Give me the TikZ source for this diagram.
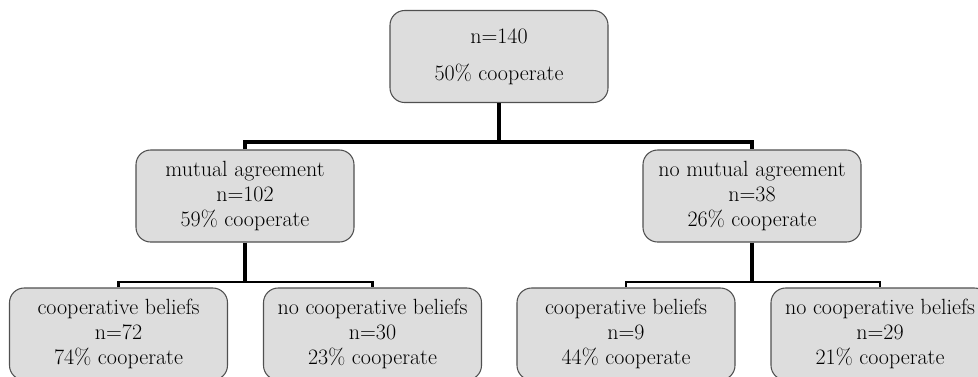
\documentclass[tikz,border=0pt]{standalone}
\usepackage{tikz}

\definecolor{boxfill}{RGB}{221,221,221}
\definecolor{boxline}{RGB}{80,80,80}

\tikzset{every picture/.style={line width=0.75pt}}
\tikzset{
  leaf/.style={draw=boxline, line width=0.8pt, fill=boxfill, rounded corners=11pt,
    minimum width=163.5pt, minimum height=69pt, align=center, inner sep=0pt,
    font=\fontsize{16.5}{18.75}\selectfont},
  branch/.style={line width=2.4pt, black},
  tick/.style={line width=1.8pt, black}
}

\begin{document}
\begin{tikzpicture}[x=0.75pt,y=0.75pt,yscale=-1,xscale=1]
%set diagram left start at 0, and has height of 376
\useasboundingbox (0,0) rectangle (978,376);
\clip (0,0) rectangle (978,376);

%Shape: Rounded Rectangle [id:root]
\node (root) [leaf] at (499,56.5) {n=140\\[9pt]50\% cooperate};
%Shape: Rounded Rectangle [id:agree]
\node (agree) [leaf] at (245,196) {mutual agreement\\n=102\\59\% cooperate};
%Shape: Rounded Rectangle [id:noagree]
\node (noagree) [leaf] at (752,196) {no mutual agreement\\n=38\\26\% cooperate};
%Shape: Rounded Rectangle [id:agreecb]
\node (agreecb) [leaf] at (118.5,334) {cooperative beliefs\\n=72\\74\% cooperate};
%Shape: Rounded Rectangle [id:agreenocb]
\node (agreenocb) [leaf] at (372.5,334) {no cooperative beliefs\\n=30\\23\% cooperate};
%Shape: Rounded Rectangle [id:noagreecb]
\node (noagreecb) [leaf] at (626,334) {cooperative beliefs\\n=9\\44\% cooperate};
%Shape: Rounded Rectangle [id:noagreenocb]
\node (noagreenocb) [leaf] at (880,334) {no cooperative beliefs\\n=29\\21\% cooperate};

% Bus points
\coordinate (busroot) at (499,142);
\coordinate (busagree) at (245,282);
\coordinate (busnoagree) at (752,282);

%Straight Lines
\draw [branch] (root.south) -- (busroot);
\draw [branch] (agree.north) |- (busroot) -| (noagree.north);
\draw [branch] (agree.south) -- (busagree);
\draw [branch] (noagree.south) -- (busnoagree);
\draw [tick] (agreecb.north) |- (busagree) -| (agreenocb.north);
\draw [tick] (noagreecb.north) |- (busnoagree) -| (noagreenocb.north);

\end{tikzpicture}
\end{document}
